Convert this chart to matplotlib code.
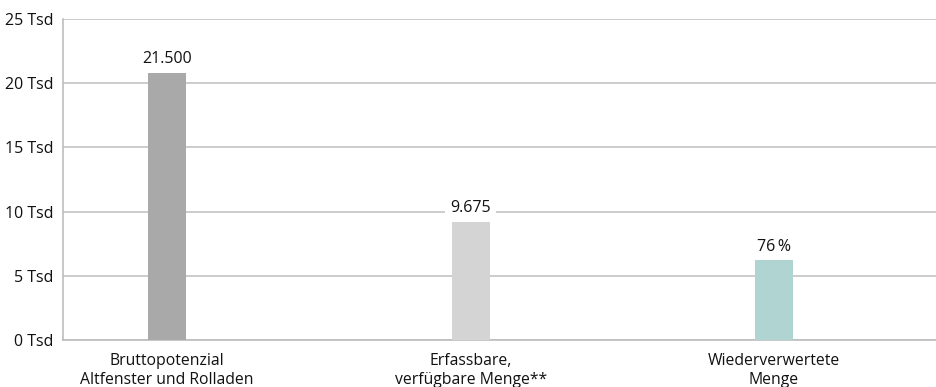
import matplotlib
matplotlib.use("Agg")
import matplotlib.pyplot as plt

categories = ["Bruttopotenzial\nAltfenster und Rolladen", "Erfassbare,\nverfügbare Menge**", "Wiederverwertete\nMenge"]
values = [20.8, 9.2, 6.2]
value_labels = ["21.500", "9.675", "76\u2009%"]
y_ticks = [0, 5, 10, 15, 20, 25]
y_tick_labels = ["0 Tsd", "5 Tsd", "10 Tsd", "15 Tsd", "20 Tsd", "25 Tsd"]
colors = ["#a9a9a9", "#d4d4d4", "#b0d4d2"]

plt.rcParams['font.family'] = ["Open Sans", "DejaVu Sans"]

fig = plt.figure(figsize=(9.37, 3.87), dpi=100)
ax = fig.add_axes([63/937, 1-340/387, (937-63)/937, (340-19)/387])

x = list(range(len(categories)))
ax.bar(x, values, width=0.125, color=colors, zorder=3)
ax.set_xlim(-0.343, 2.537)
ax.set_ylim(0, 25)
ax.set_yticks(y_ticks)
ax.set_yticklabels(y_tick_labels, fontsize=11.5, color="#111111")
ax.set_xticks(x)
ax.set_xticklabels(categories, fontsize=11.3, color="#111111", linespacing=1.25)
ax.tick_params(axis='both', length=0)
ax.tick_params(axis='y', pad=7)
ax.tick_params(axis='x', pad=9.5)
ax.grid(axis='y', color="#c4c4c4", linewidth=1.2, zorder=0)
for s in ["top", "right"]:
    ax.spines[s].set_visible(False)
for s in ["left", "bottom"]:
    ax.spines[s].set_color("#bdbdbd")
    ax.spines[s].set_linewidth(1.2)

for xi, v, lab in zip(x, values, value_labels):
    ax.annotate(lab, (xi, v), xytext=(0, 4), textcoords="offset points",
                ha="center", va="bottom", fontsize=11.5, color="#111111", zorder=4,
                bbox=dict(boxstyle="square,pad=0.3", facecolor="white", edgecolor="none"))

fig.savefig("out.png", dpi=100)
